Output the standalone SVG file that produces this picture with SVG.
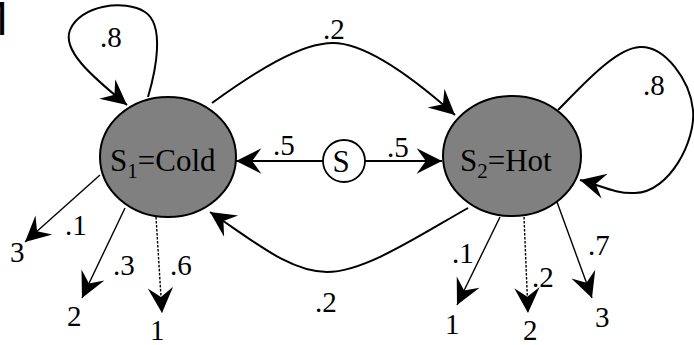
<svg xmlns="http://www.w3.org/2000/svg" width="694" height="345" viewBox="0 0 694 345" font-family="'Times New Roman', 'Liberation Serif', Tinos, serif">
<defs>
<marker id="ah" markerUnits="userSpaceOnUse" markerWidth="30" markerHeight="30" viewBox="-24 -13 26 26" refX="0" refY="0" orient="auto">
<path d="M0,0 L-22,-11 L-14,0 L-22,11 Z" fill="#000"/>
</marker>
</defs>
<g id="connectors" fill="none" stroke="#000">
<g stroke-width="2">
<path d="M148,97 C156,70 165,25 145,12 C125,-1 80,5 70,30 C62,50 90,75 127,105" marker-end="url(#ah)"/>
<path d="M212,103 C255,72 300,43 333,43 C365,43 410,75 455,115" marker-end="url(#ah)"/>
<path d="M558,110 C580,88 615,48 640,47 C665,46 690,80 693,110 C696,140 670,192 635,193 C615,194 600,185 580,180" marker-end="url(#ah)"/>
<path d="M468,208 C420,235 365,272 327,272 C290,272 255,242 210,212" marker-end="url(#ah)"/>
<path d="M323,161 L236,161" marker-end="url(#ah)"/>
<path d="M365,161 L442,161" marker-end="url(#ah)"/>
</g>
<g stroke-width="1.4">
<path d="M100,175 L25,242" marker-end="url(#ah)"/>
<path d="M125,208 L82,298" marker-end="url(#ah)"/>
<path d="M156,217 L162,313" stroke-dasharray="2.5,1.5" marker-end="url(#ah)"/>
<path d="M500,217 L457,305" marker-end="url(#ah)"/>
<path d="M524,217 L528,313" stroke-dasharray="2.5,1.5" marker-end="url(#ah)"/>
<path d="M557,202 L592,298" marker-end="url(#ah)"/>
</g>
</g>
<g id="cold">
<ellipse cx="168" cy="157" rx="68" ry="60" fill="#808080" stroke="#000" stroke-width="2"/>
<text x="110" y="171" font-family="Times New Roman, Liberation Serif, serif" font-size="31">S<tspan font-size="21" dy="7">1</tspan><tspan dy="-7">=Cold</tspan></text>
</g>
<g id="hot">
<ellipse cx="512" cy="156" rx="69" ry="60" fill="#808080" stroke="#000" stroke-width="2"/>
<text x="460" y="171" font-family="Times New Roman, Liberation Serif, serif" font-size="31">S<tspan font-size="21" dy="7">2</tspan><tspan dy="-7">=Hot</tspan></text>
</g>
<g id="start">
<circle cx="344" cy="161" r="21" fill="#fff" stroke="#000" stroke-width="1.8"/>
<text x="341" y="172" text-anchor="middle" font-family="Times New Roman, Liberation Serif, serif" font-size="31">S</text>
</g>
<g id="labels" font-family="Times New Roman, Liberation Serif, serif" font-size="29">
<text x="100" y="47">.8</text>
<text x="323" y="39">.2</text>
<text x="273" y="155">.5</text>
<text x="387" y="157">.5</text>
<text x="643" y="95">.8</text>
<text x="315" y="312">.2</text>
<text x="10" y="262">3</text>
<text x="65" y="235">.1</text>
<text x="67" y="326">2</text>
<text x="113" y="275">.3</text>
<text x="150" y="340">1</text>
<text x="170" y="275">.6</text>
<text x="452" y="263">.1</text>
<text x="445" y="334">1</text>
<text x="523" y="340">2</text>
<text x="532" y="287">.2</text>
<text x="588" y="255">.7</text>
<text x="595" y="327">3</text>
</g>
<text x="-32" y="35" font-family="Liberation Sans, Arial, sans-serif" font-size="48">M</text>
</svg>
